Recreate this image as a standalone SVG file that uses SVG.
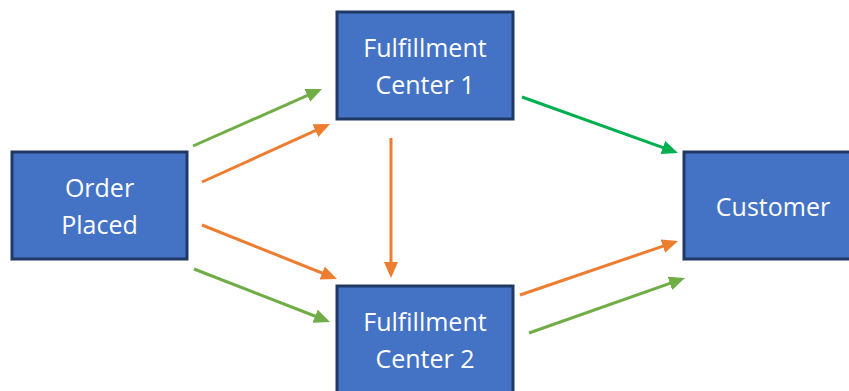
<svg xmlns="http://www.w3.org/2000/svg" width="849" height="391" viewBox="0 0 849 391">
<style>
.box{fill:#4472C4;stroke:#203864;stroke-width:3}
.lbl{font-family:"Open Sans","Liberation Sans",sans-serif;font-size:25px;fill:#FFFFFF;text-anchor:middle}
.c{fill:none;stroke-width:3}
.or{stroke:#ED7D31}
.gr{stroke:#70AD47}
.dg{stroke:#00B050}
</style>
<defs>
<marker id="aor" viewBox="0 0 16 14" refX="12" refY="7" markerWidth="16" markerHeight="14" markerUnits="userSpaceOnUse" orient="auto"><path d="M0,0 L16,7 L0,14 z" fill="#ED7D31"/></marker>
<marker id="agr" viewBox="0 0 16 14" refX="12" refY="7" markerWidth="16" markerHeight="14" markerUnits="userSpaceOnUse" orient="auto"><path d="M0,0 L16,7 L0,14 z" fill="#70AD47"/></marker>
<marker id="adg" viewBox="0 0 16 14" refX="12" refY="7" markerWidth="16" markerHeight="14" markerUnits="userSpaceOnUse" orient="auto"><path d="M0,0 L16,7 L0,14 z" fill="#00B050"/></marker>
</defs>
<rect width="849" height="391" fill="#FFFFFF"/>
<g id="connectors">
<line class="c gr" x1="193" y1="146" x2="318.3" y2="90.6" marker-end="url(#agr)"/>
<line class="c or" x1="202" y1="182" x2="326.4" y2="125.7" marker-end="url(#aor)"/>
<line class="c or" x1="202" y1="225" x2="333.3" y2="277.5" marker-end="url(#aor)"/>
<line class="c gr" x1="194" y1="269" x2="326.3" y2="320.5" marker-end="url(#agr)"/>
<line class="c or" x1="391" y1="138" x2="391" y2="274" marker-end="url(#aor)"/>
<line class="c dg" x1="522" y1="97" x2="674.2" y2="151.6" marker-end="url(#adg)"/>
<line class="c or" x1="520" y1="295" x2="674.2" y2="242.3" marker-end="url(#aor)"/>
<line class="c gr" x1="529" y1="333" x2="681.2" y2="279.3" marker-end="url(#agr)"/>
</g>
<g id="order-placed">
<rect class="box" x="12" y="152" width="175" height="107"/>
<text class="lbl" x="99.5" y="197">Order</text>
<text class="lbl" x="99.5" y="234">Placed</text>
</g>
<g id="fulfillment-center-1">
<rect class="box" x="337" y="12" width="176" height="107"/>
<text class="lbl" x="425" y="57">Fulfillment</text>
<text class="lbl" x="425" y="94">Center 1</text>
</g>
<g id="fulfillment-center-2">
<rect class="box" x="337" y="286" width="176" height="107"/>
<text class="lbl" x="425" y="331">Fulfillment</text>
<text class="lbl" x="425" y="368">Center 2</text>
</g>
<g id="customer">
<rect class="box" x="684" y="152" width="176" height="107"/>
<text class="lbl" x="773" y="216">Customer</text>
</g>
</svg>
